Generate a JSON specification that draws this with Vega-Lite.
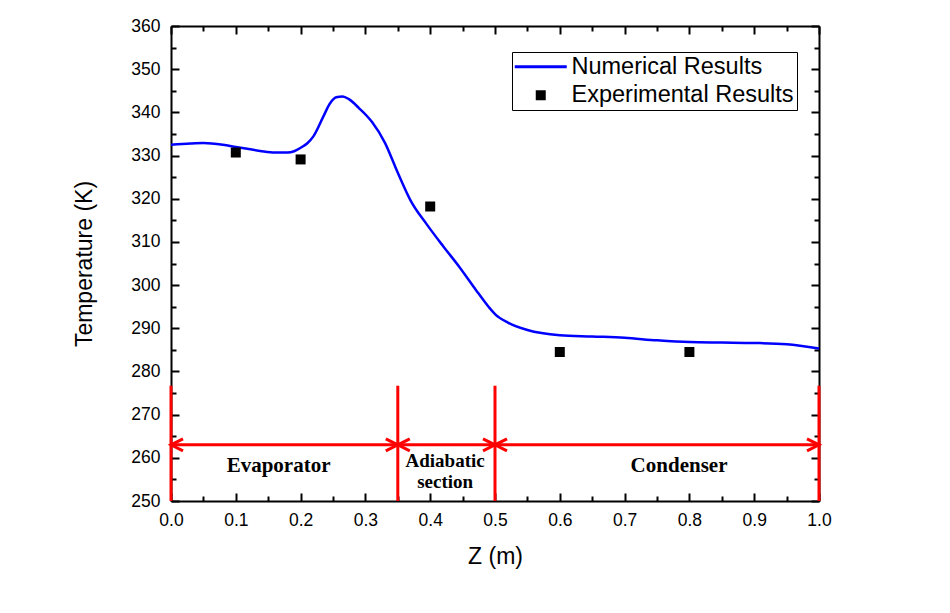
{
  "$schema": "https://vega.github.io/schema/vega-lite/v6.json",
  "width": 648,
  "height": 475,
  "autosize": {"type": "none"},
  "padding": {"left": 171, "top": 26, "right": 131, "bottom": 112},
  "background": "white",
  "config": {
    "view": {"stroke": null},
    "axis": {"grid": false, "domainColor": "black", "tickColor": "black", "labelColor": "black", "titleColor": "black", "labelFont": "Liberation Sans", "titleFont": "Liberation Sans", "labelFontSize": 17.5, "titleFontSize": 23, "titleFontWeight": "normal", "domainWidth": 2, "tickWidth": 2}
  },
  "datasets": {
    "numerical": [
      {"z": 0.00, "t": 332.5}, {"z": 0.03, "t": 332.8}, {"z": 0.05, "t": 332.9}, {"z": 0.08, "t": 332.5},
      {"z": 0.10, "t": 332.0}, {"z": 0.12, "t": 331.5}, {"z": 0.14, "t": 331.0}, {"z": 0.16, "t": 330.7},
      {"z": 0.18, "t": 330.7}, {"z": 0.19, "t": 331.0}, {"z": 0.20, "t": 331.8}, {"z": 0.21, "t": 332.8},
      {"z": 0.22, "t": 334.5}, {"z": 0.235, "t": 339.0}, {"z": 0.245, "t": 342.0}, {"z": 0.255, "t": 343.5},
      {"z": 0.265, "t": 343.7}, {"z": 0.275, "t": 343.0}, {"z": 0.29, "t": 341.0}, {"z": 0.31, "t": 337.8},
      {"z": 0.33, "t": 333.0}, {"z": 0.35, "t": 326.0}, {"z": 0.37, "t": 319.5}, {"z": 0.395, "t": 314.0},
      {"z": 0.42, "t": 309.0}, {"z": 0.445, "t": 304.2}, {"z": 0.47, "t": 299.0}, {"z": 0.49, "t": 295.0},
      {"z": 0.50, "t": 293.3}, {"z": 0.52, "t": 291.3}, {"z": 0.55, "t": 289.6}, {"z": 0.60, "t": 288.4},
      {"z": 0.65, "t": 288.1}, {"z": 0.70, "t": 287.8}, {"z": 0.75, "t": 287.2}, {"z": 0.80, "t": 286.8},
      {"z": 0.85, "t": 286.7}, {"z": 0.90, "t": 286.6}, {"z": 0.95, "t": 286.3}, {"z": 1.00, "t": 285.3}
    ],
    "experimental": [
      {"z": 0.1, "t": 330.7}, {"z": 0.2, "t": 329.1}, {"z": 0.4, "t": 318.2}, {"z": 0.6, "t": 284.5}, {"z": 0.8, "t": 284.5}
    ],
    "bounds": [
      {"z": 0.0, "t0": 250, "t1": 276.7}, {"z": 0.35, "t0": 250, "t1": 276.7}, {"z": 0.5, "t0": 250, "t1": 276.7}, {"z": 1.0, "t0": 250, "t1": 276.7}
    ],
    "arrowline": [{"z0": 0.0, "z1": 1.0, "t": 263}],
    "rightarrows": [{"z": 0.35, "t": 263}, {"z": 0.5, "t": 263}, {"z": 1.0, "t": 263}],
    "leftarrows": [{"z": 0.0, "t": 263}, {"z": 0.35, "t": 263}, {"z": 0.5, "t": 263}],
    "biglabels": [{"z": 0.166, "t": 258.2, "label": "Evaporator"}, {"z": 0.784, "t": 258.2, "label": "Condenser"}],
    "smalllabels": [{"z": 0.423, "t": 259.3, "label": "Adiabatic"}, {"z": 0.423, "t": 254.5, "label": "section"}]
  },
  "resolve": {"axis": {"x": "independent", "y": "independent"}},
  "layer": [
    {
      "data": {"name": "numerical"},
      "transform": [{"calculate": "'Numerical Results'", "as": "series"}],
      "mark": {"type": "line", "interpolate": "monotone", "strokeWidth": 2.5},
      "encoding": {
        "x": {"field": "z", "type": "quantitative", "scale": {"domain": [0, 1], "nice": false},
          "axis": {"orient": "bottom", "title": "Z (m)", "values": [0, 0.1, 0.2, 0.3, 0.4, 0.5, 0.6, 0.7, 0.8, 0.9, 1.0], "format": ".1f", "tickSize": -8, "labelPadding": 18, "titlePadding": 17, "labelFlush": false}},
        "y": {"field": "t", "type": "quantitative", "scale": {"domain": [250, 360], "nice": false, "zero": false},
          "axis": {"orient": "left", "title": "Temperature (K)", "values": [250, 260, 270, 280, 290, 300, 310, 320, 330, 340, 350, 360], "tickSize": -8, "labelPadding": 19, "titlePadding": 34, "labelFlush": false}},
        "color": {"field": "series", "type": "nominal",
          "scale": {"domain": ["Numerical Results", "Experimental Results"], "range": ["#0000ff", "#000000"]},
          "legend": {"title": null, "orient": "none", "legendX": 341, "legendY": 26, "strokeColor": "black", "fillColor": "white", "padding": 3, "cornerRadius": 0,
            "labelFont": "Liberation Sans", "labelFontSize": 23.5, "labelColor": "black", "labelLimit": 400, "symbolSize": 2704, "symbolStrokeWidth": 3, "rowPadding": 3.5, "labelOffset": 19, "symbolOffset": 14,
            "encode": {"symbols": {"update": {
              "shape": {"signal": "datum.value === 'Numerical Results' ? 'stroke' : 'square'"},
              "size": {"signal": "datum.value === 'Numerical Results' ? 2704 : 100"},
              "fill": {"signal": "datum.value === 'Numerical Results' ? 'transparent' : 'black'"},
              "stroke": {"signal": "datum.value === 'Numerical Results' ? '#0000ff' : 'black'"},
              "strokeWidth": {"signal": "datum.value === 'Numerical Results' ? 3 : 0"},
              "opacity": {"value": 1}
            }}}}}
      }
    },
    {
      "data": {"name": "experimental"},
      "transform": [{"calculate": "'Experimental Results'", "as": "series"}],
      "mark": {"type": "point", "shape": "square", "filled": true, "size": 100, "opacity": 1},
      "encoding": {
        "x": {"field": "z", "type": "quantitative", "axis": {"orient": "top", "title": null, "labels": false, "values": [0, 0.1, 0.2, 0.3, 0.4, 0.5, 0.6, 0.7, 0.8, 0.9, 1.0], "tickSize": -8}},
        "y": {"field": "t", "type": "quantitative", "axis": {"orient": "right", "title": null, "labels": false, "values": [250, 260, 270, 280, 290, 300, 310, 320, 330, 340, 350, 360], "tickSize": -8}},
        "color": {"field": "series", "type": "nominal"}
      }
    },
    {
      "data": {"name": "experimental"},
      "mark": {"type": "point", "opacity": 0},
      "encoding": {
        "x": {"field": "z", "type": "quantitative", "axis": {"orient": "bottom", "title": null, "labels": false, "domain": false, "values": [0.05, 0.15, 0.25, 0.35, 0.45, 0.55, 0.65, 0.75, 0.85, 0.95], "tickSize": -5}},
        "y": {"field": "t", "type": "quantitative", "axis": {"orient": "left", "title": null, "labels": false, "domain": false, "values": [255, 265, 275, 285, 295, 305, 315, 325, 335, 345, 355], "tickSize": -5}}
      }
    },
    {
      "data": {"name": "experimental"},
      "mark": {"type": "point", "opacity": 0},
      "encoding": {
        "x": {"field": "z", "type": "quantitative", "axis": {"orient": "top", "title": null, "labels": false, "domain": false, "values": [0.05, 0.15, 0.25, 0.35, 0.45, 0.55, 0.65, 0.75, 0.85, 0.95], "tickSize": -5}},
        "y": {"field": "t", "type": "quantitative", "axis": {"orient": "right", "title": null, "labels": false, "domain": false, "values": [255, 265, 275, 285, 295, 305, 315, 325, 335, 345, 355], "tickSize": -5}}
      }
    },
    {
      "data": {"name": "bounds"},
      "mark": {"type": "rule", "color": "#ff0000", "strokeWidth": 3},
      "encoding": {
        "x": {"field": "z", "type": "quantitative", "axis": null},
        "y": {"field": "t0", "type": "quantitative", "axis": null},
        "y2": {"field": "t1"}
      }
    },
    {
      "data": {"name": "arrowline"},
      "mark": {"type": "rule", "color": "#ff0000", "strokeWidth": 3},
      "encoding": {
        "x": {"field": "z0", "type": "quantitative", "axis": null},
        "x2": {"field": "z1"},
        "y": {"field": "t", "type": "quantitative", "axis": null}
      }
    },
    {
      "data": {"name": "rightarrows"},
      "mark": {"type": "point", "shape": "M-2,-1L0,0L-2,1", "filled": false, "stroke": "#ff0000", "strokeWidth": 3, "size": 144, "opacity": 1},
      "encoding": {
        "x": {"field": "z", "type": "quantitative", "axis": null},
        "y": {"field": "t", "type": "quantitative", "axis": null}
      }
    },
    {
      "data": {"name": "leftarrows"},
      "mark": {"type": "point", "shape": "M2,-1L0,0L2,1", "filled": false, "stroke": "#ff0000", "strokeWidth": 3, "size": 144, "opacity": 1},
      "encoding": {
        "x": {"field": "z", "type": "quantitative", "axis": null},
        "y": {"field": "t", "type": "quantitative", "axis": null}
      }
    },
    {
      "data": {"name": "biglabels"},
      "mark": {"type": "text", "font": "Liberation Serif", "fontWeight": "bold", "fontSize": 21, "color": "black", "baseline": "middle", "align": "center"},
      "encoding": {
        "x": {"field": "z", "type": "quantitative", "axis": null},
        "y": {"field": "t", "type": "quantitative", "axis": null},
        "text": {"field": "label"}
      }
    },
    {
      "data": {"name": "smalllabels"},
      "mark": {"type": "text", "font": "Liberation Serif", "fontWeight": "bold", "fontSize": 19, "color": "black", "baseline": "middle", "align": "center"},
      "encoding": {
        "x": {"field": "z", "type": "quantitative", "axis": null},
        "y": {"field": "t", "type": "quantitative", "axis": null},
        "text": {"field": "label"}
      }
    }
  ]
}
